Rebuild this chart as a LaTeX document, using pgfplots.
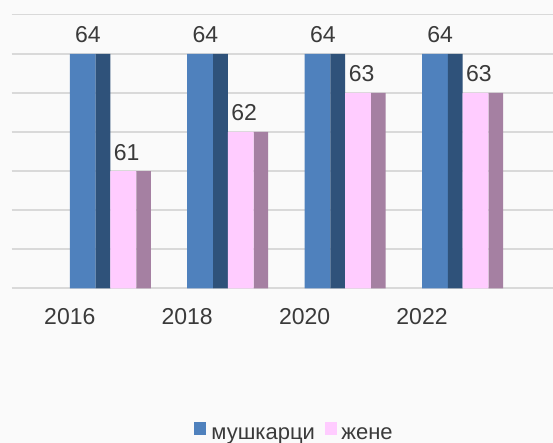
\documentclass[border=0pt]{standalone}
\usepackage{pgfplots}
\usepackage{pgfplotstable}
\pgfplotsset{compat=1.18}
\usepackage{fontspec}
\setmainfont{Liberation Sans}
\definecolor{bg}{HTML}{FAFAFA}
\definecolor{gridc}{HTML}{D9D9D9}
\definecolor{txt}{HTML}{3A3A3A}
\definecolor{maleF}{HTML}{4F81BD}
\definecolor{maleS}{HTML}{2F527A}
\definecolor{femF}{HTML}{FFCCFF}
\definecolor{femS}{HTML}{A580A2}
\pgfplotstableread{
x male female
0 64 61
1 64 62
2 64 63
3 64 63
}\data
\begin{document}
\begin{tikzpicture}
\useasboundingbox (0,0) rectangle (553pt,443pt);
\fill[bg] (0,0) rectangle (553pt,443pt);
\begin{axis}[
  at={(11.6pt,154.7pt)}, anchor=south west,
  scale only axis, width=541.4pt, height=273.6pt,
  xmin=-0.4957, xmax=4.1158, ymin=58, ymax=65,
  ybar,
  axis line style={draw=none},
  major tick length=0pt,
  ytick={58,59,60,61,62,63,64,65}, yticklabels={},
  ymajorgrids, grid style={color=gridc, line width=1.6pt},
  xtick={0,1,2,3}, xticklabels={2016,2018,2020,2022},
  xticklabel style={inner sep=0pt, anchor=north, yshift=-20.2pt, text=txt, font=\fontsize{23}{27}\selectfont},
  /pgf/number format/assume math mode=true,
  nodes near coords style={anchor=south, inner sep=0pt, yshift=10.6pt, text=txt, font=\fontsize{23}{27}\selectfont},
  legend columns=2,
  legend style={draw=none, fill=none, at={(0.520,-0.524)}, anchor=center,
    font=\fontsize{22}{26}\selectfont, text=txt,
    nodes={inner sep=0pt},
    /tikz/every even column/.append style={column sep=10pt}},
]
\addplot[forget plot, draw=none, fill=maleF, bar width=0.2198, bar shift=0.1099] table[x=x,y=male]{\data};
\addplot[forget plot, draw=none, fill=maleS, bar width=0.1260, bar shift=0.2828] table[x=x,y=male]{\data};
\addplot[forget plot, draw=none, fill=femF, bar width=0.2198, bar shift=0.4557] table[x=x,y=female]{\data};
\addplot[forget plot, draw=none, fill=femS, bar width=0.1227, bar shift=0.6287] table[x=x,y=female]{\data};
\addplot[forget plot, draw=none, fill=none, bar width=0.01, bar shift=0.155, nodes near coords] table[x=x,y=male]{\data};
\addplot[forget plot, draw=none, fill=none, bar width=0.01, bar shift=0.485, nodes near coords] table[x=x,y=female]{\data};
\addlegendimage{legend image code/.code={\fill[maleF] (0pt,0pt) rectangle (11.5pt,11.5pt); \path (17.5pt,0pt);}}
\addlegendentry{мушкарци}
\addlegendimage{legend image code/.code={\fill[femF] (0pt,0pt) rectangle (11.5pt,11.5pt); \path (16pt,0pt);}}
\addlegendentry{жене}
\end{axis}
\end{tikzpicture}
\end{document}
